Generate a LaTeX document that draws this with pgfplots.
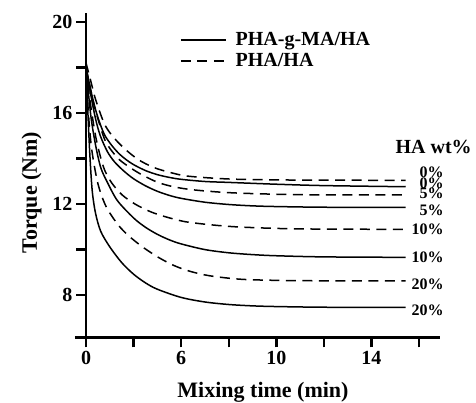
\documentclass[border=0pt]{standalone}
\usepackage{fontspec}
\setmainfont{Liberation Serif}
\usepackage{pgfplots}
\pgfplotsset{compat=1.18}
\begin{document}
\begin{tikzpicture}
\useasboundingbox (0,0) rectangle (476bp,403bp);
\begin{axis}[
  at={(86bp,65.7bp)}, anchor=south west,
  scale only axis, width=354bp, height=324.6bp,
  xmin=0, xmax=7.44, ymin=6.15, ymax=20.4,
  axis x line*=bottom, axis y line*=left,
  axis line style={line width=2.8bp, -},
  x axis line style={shorten <=-11bp},
  xtick={0,...,7}, xticklabels={\textbf{0},,\textbf{6},,\textbf{10},,\textbf{14},},
  ytick={8,10,...,20}, yticklabels={\textbf{8},,\textbf{12},,\textbf{16},,\textbf{20}},
  tick align=outside, major tick length=10bp,
  tick style={line width=2.4bp, black},
  ticklabel style={font=\fontsize{20bp}{20bp}\selectfont\bfseries},
  /pgf/number format/assume math mode=true,
  xlabel={Mixing time (min)}, ylabel={Torque (Nm)},
  label style={font=\fontsize{22bp}{22bp}\selectfont\bfseries},
  xlabel style={at={(axis description cs:0.5,-0.1848)}, anchor=base},
  ylabel style={at={(axis description cs:-0.139,0.446)}, anchor=base},
  clip=false,
  legend style={draw=none, fill=none, at={(axis description cs:0.2655,0.945)}, anchor=north west,
    font=\fontsize{20bp}{20bp}\selectfont\bfseries, row sep=2bp, inner sep=0pt,
    /tikz/every odd column/.append style={column sep=7bp}},
  legend cell align=left,
  legend image code/.code={\draw[#1] (0bp,0bp) -- (45bp,0bp);},
  sol/.style={black, no marks, line width=1.5bp, smooth, tension=0.5, solid},
  dsh/.style={black, no marks, line width=1.5bp, smooth, tension=0.5, dash pattern=on 10bp off 6.5bp},
]
% PHA-g-MA/HA 0%
\addplot[sol] coordinates {(0,18.0)(0.1,17.0)(0.2,16.15)(0.3,15.5)(0.4,15.0)(0.55,14.55)(0.7,14.2)(0.85,13.94)(1.0,13.73)(1.25,13.47)(1.5,13.29)(1.75,13.17)(2.0,13.085)(2.5,12.99)(3,12.95)(4,12.87)(5,12.81)(6.72,12.76)};
\addlegendentry{PHA-g-MA/HA}
% PHA/HA 0%
\addplot[dsh] coordinates {(0,18.2)(0.1,17.4)(0.2,16.6)(0.38,15.55)(0.55,15.0)(0.8,14.45)(1.1,13.95)(1.43,13.6)(1.8,13.37)(2.16,13.22)(3,13.1)(4,13.06)(5,13.05)(6.72,13.04)};
\addlegendentry{PHA/HA}
% PHA/HA 5%
\addplot[dsh] coordinates {(0,18)(0.1,17.0)(0.2,16.1)(0.38,14.9)(0.5,14.45)(0.7,13.95)(0.95,13.57)(1.18,13.28)(1.51,12.95)(1.86,12.75)(2.27,12.62)(3,12.5)(4,12.43)(5,12.4)(6.72,12.4)};
% PHA-g-MA/HA 5%
\addplot[sol] coordinates {(0,18)(0.1,16.8)(0.2,15.75)(0.3,15.0)(0.45,14.3)(0.6,13.85)(0.8,13.44)(1.0,13.11)(1.25,12.8)(1.5,12.56)(1.75,12.38)(2.0,12.25)(2.5,12.08)(3,11.98)(3.5,11.92)(4,11.89)(5,11.86)(6.72,11.85)};
% PHA/HA 10%
\addplot[dsh] coordinates {(0,18)(0.05,17.1)(0.1,16.3)(0.2,15.0)(0.3,14.1)(0.4,13.45)(0.55,12.9)(0.76,12.4)(1.03,12.0)(1.37,11.65)(1.74,11.4)(2.16,11.2)(3,11.02)(4,10.93)(5,10.9)(6.72,10.89)};
% PHA-g-MA/HA 10%
\addplot[sol] coordinates {(0,18)(0.1,15.9)(0.2,14.6)(0.31,13.6)(0.45,12.95)(0.66,12.15)(1.0,11.39)(1.25,10.98)(1.5,10.67)(1.75,10.43)(2.0,10.25)(2.5,10.0)(3,9.86)(3.5,9.78)(4,9.73)(5,9.68)(6.72,9.66)};
% PHA/HA 20%
\addplot[dsh] coordinates {(0,18)(0.05,16.0)(0.12,14.4)(0.25,12.9)(0.42,11.9)(0.67,11.1)(0.9,10.6)(1.2,10.1)(1.53,9.65)(1.85,9.3)(2.18,9.05)(2.6,8.85)(3.24,8.7)(4,8.65)(5,8.63)(6.72,8.63)};
% PHA-g-MA/HA 20%
\addplot[sol] coordinates {(0,18)(0.04,16)(0.08,14.2)(0.13,12.6)(0.2,11.6)(0.31,10.8)(0.5,10.12)(0.75,9.43)(1.0,8.92)(1.25,8.54)(1.5,8.26)(2.0,7.9)(2.5,7.7)(3.0,7.59)(3.5,7.53)(4,7.5)(5,7.47)(6.72,7.46)};
\begin{scope}[every node/.style={inner sep=0pt, anchor=east, font=\fontsize{16bp}{16bp}\selectfont\bfseries}]
\node at (axis cs:7.52,13.38) {0\%};
\node at (axis cs:7.52,12.91) {0\%};
\node at (axis cs:7.52,12.48) {5\%};
\node at (axis cs:7.52,11.74) {5\%};
\node at (axis cs:7.52,10.89) {10\%};
\node at (axis cs:7.52,9.65) {10\%};
\node at (axis cs:7.52,8.48) {20\%};
\node at (axis cs:7.52,7.35) {20\%};
\end{scope}
\node[inner sep=0pt, anchor=east, font=\fontsize{20bp}{20bp}\selectfont\bfseries] at (axis cs:8.11,14.52) {HA wt\%};
\end{axis}
\end{tikzpicture}
\end{document}
